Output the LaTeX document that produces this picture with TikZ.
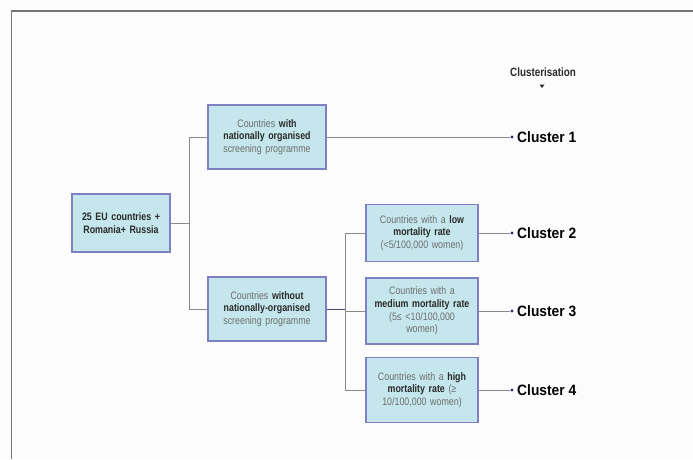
\documentclass[tikz,border=0pt]{standalone}
\usepackage{fontspec}
\setmainfont{Liberation Sans}
\newfontfamily\condfont[FakeStretch=0.82]{Liberation Sans}
\newfontfamily\clfont[FakeStretch=0.92]{Liberation Sans}
\usetikzlibrary{calc}
\definecolor{boxfill}{HTML}{C4E6EC}
\definecolor{boxedge}{HTML}{7F80C2}
\definecolor{txtgray}{HTML}{6E6E6E}
\definecolor{txtdark}{HTML}{2A2A2A}
\definecolor{linegray}{HTML}{8A8A8A}
\definecolor{navy}{HTML}{2E2E6E}
\tikzset{
  box/.style={draw=boxedge, line width=1.8pt, fill=boxfill, align=center,
    inner sep=2pt, font=\condfont\fontsize{10.8}{12.6}\selectfont, text=txtgray},
  clab/.style={anchor=west, inner sep=0pt, font=\clfont\bfseries\fontsize{15}{16}\selectfont, text=black},
  conn/.style={draw=linegray, line width=0.8pt},
  dconn/.style={draw=navy!70!linegray, line width=1pt},
  dotm/.style={circle, fill=navy, inner sep=0pt, minimum size=3.4pt},
}
\newcommand{\bd}[1]{{\bfseries\color{txtdark}#1}}
\begin{document}
\begin{tikzpicture}[x=1pt,y=-1pt]
\useasboundingbox (0,0) rectangle (693,459);
\fill[white!99!black] (0,0) rectangle (693,459);
\draw[black!55, line width=1.3pt] (693,11) -- (11.5,11) -- (11.5,459);

\node[box, minimum width=98pt, minimum height=58pt, text width=94pt] (A) at (121,223)
  {\bd{25 EU countries +}\\\bd{Romania+ Russia}};
\node[box, minimum width=118pt, minimum height=64pt, text width=114pt] (B) at (267,137)
  {Countries \bd{with}\\\bd{nationally organised}\\screening programme};
\node[box, minimum width=118pt, minimum height=64pt, text width=114pt] (C) at (267,309)
  {Countries \bd{without}\\\bd{nationally-organised}\\screening programme};
\node[box, minimum width=112pt, minimum height=57pt, text width=108pt] (D) at (422,233)
  {Countries with a \bd{low}\\\bd{mortality rate}\\(<5/100,000 women)};
\node[box, minimum width=112pt, minimum height=66pt, text width=108pt] (E) at (422,311)
  {Countries with a\\\bd{medium mortality rate}\\(5≤ <10/100,000\\women)};
\node[box, minimum width=112pt, minimum height=65pt, text width=108pt] (F) at (422,390)
  {Countries with a \bd{high}\\\bd{mortality rate} (≥\\10/100,000 women)};

\coordinate (j1) at (189,223);
\coordinate (j2) at (345,309);
\draw[conn] (A.east) -- (j1);
\draw[conn] (j1 |- B.west) -- (j1 |- C.west);
\draw[conn] (j1 |- B.west) -- (B.west);
\draw[conn] (j1 |- C.west) -- (C.west);
\draw[dconn] (C.east) -- (j2);
\draw[conn] (j2 |- D.west) -- (j2 |- F.west);
\draw[conn] (j2 |- D.west) -- (D.west);
\draw[conn] (j2 |- E.west) -- (E.west);
\draw[conn] (j2 |- F.west) -- (F.west);

\node[dotm] (d1) at (512,137) {};
\node[dotm] (d2) at (512,233) {};
\node[dotm] (d3) at (512,311) {};
\node[dotm] (d4) at (512,390) {};
\draw[conn] (B.east) -- (d1);
\draw[conn] (D.east) -- (d2);
\draw[conn] (E.east) -- (d3);
\draw[conn] (F.east) -- (d4);
\node[clab] (c1) at (517,137) {Cluster 1};
\node[clab] (c2) at (517,233) {Cluster 2};
\node[clab] (c3) at (517,311) {Cluster 3};
\node[clab] (c4) at (517,390) {Cluster 4};

\node[inner sep=0pt, font=\condfont\bfseries\fontsize{12}{13}\selectfont, text=txtdark] (cl) at (543,72) {Clusterisation};
\fill[txtdark] (542,88) -- (539.5,84.5) -- (544.5,84.5) -- cycle;
\end{tikzpicture}
\end{document}
